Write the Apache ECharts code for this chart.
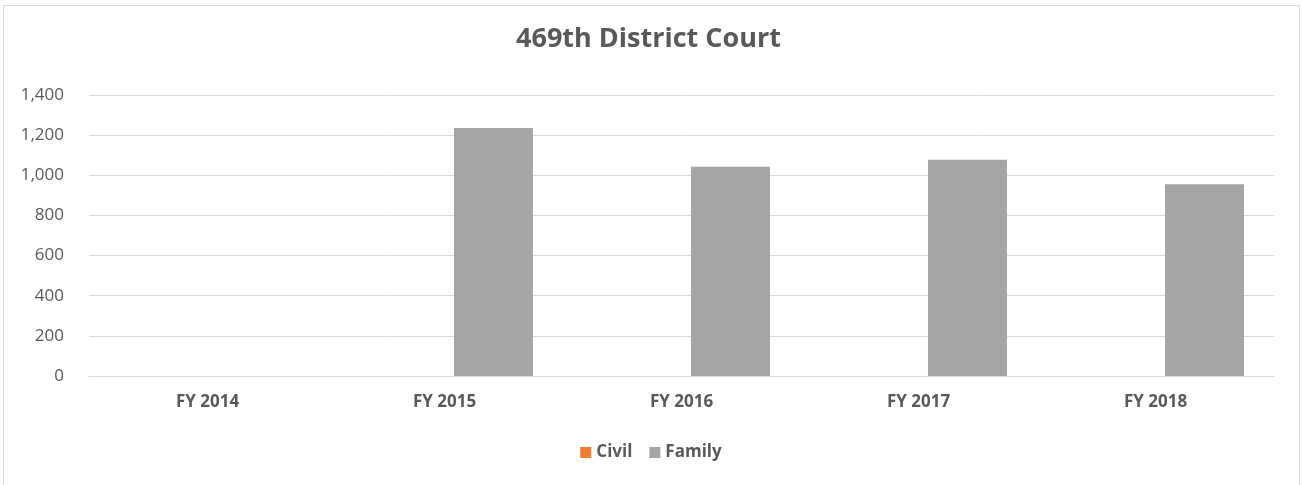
<!DOCTYPE html>
<html>
<head>
<meta charset="utf-8">
<script src="https://cdn.jsdelivr.net/npm/echarts@6/dist/echarts.min.js"></script>
<style>
  html, body { margin: 0; padding: 0; background: #fff; }
  #chart { position: absolute; left: 0; top: 0; width: 1302px; height: 485px; }
  .frame {
    position: absolute; left: 3px; top: 5px; width: 1295px; height: 490px;
    border: 1px solid #d9d9d9; pointer-events: none;
  }
</style>
</head>
<body>
<div id="chart"></div>
<div class="frame"></div>
<script>
const categories = ['FY 2014', 'FY 2015', 'FY 2016', 'FY 2017', 'FY 2018']
const civil = [0, 0, 0, 0, 0]
const family = [0, 1236, 1043, 1078, 955]

const font = '"Open Sans", "Noto Sans", sans-serif'
const textColor = '#595959'

const chart = echarts.init(document.getElementById('chart'))

chart.setOption({
  backgroundColor: 'transparent',
  animation: false,
  title: {
    text: '469th District Court',
    left: 511,
    top: 21,
    textStyle: { color: textColor, fontFamily: font, fontSize: 27, fontWeight: 'bold' },
  },
  legend: {
    data: ['Civil', 'Family'],
    bottom: 19,
    left: 'center',
    itemWidth: 11,
    itemHeight: 11,
    itemGap: 17,
    icon: 'rect',
    textStyle: { color: textColor, fontFamily: font, fontSize: 17, fontWeight: 'bold' },
  },
  grid: { left: 89, right: 28, top: 95, bottom: 109 },
  xAxis: {
    type: 'category',
    data: categories,
    axisLine: { lineStyle: { color: '#d9d9d9' } },
    axisTick: { show: false },
    axisLabel: { color: textColor, fontFamily: font, fontSize: 17, fontWeight: 'bold', margin: 18 },
  },
  yAxis: {
    type: 'value',
    min: 0,
    max: 1400,
    interval: 200,
    axisLine: { show: false },
    axisTick: { show: false },
    splitLine: { lineStyle: { color: '#d9d9d9' } },
    axisLabel: {
      color: textColor,
      fontFamily: font,
      fontSize: 17,
      margin: 25,
      formatter: (v) => v.toLocaleString('en-US'),
    },
  },
  series: [
    {
      name: 'Civil',
      type: 'bar',
      data: civil,
      barWidth: 79,
      barGap: '24%',
      itemStyle: { color: '#ED7D31' },
    },
    {
      name: 'Family',
      type: 'bar',
      data: family,
      barWidth: 79,
      barGap: '24%',
      itemStyle: { color: '#A5A5A5' },
    },
  ],
})
</script>
</body>
</html>
